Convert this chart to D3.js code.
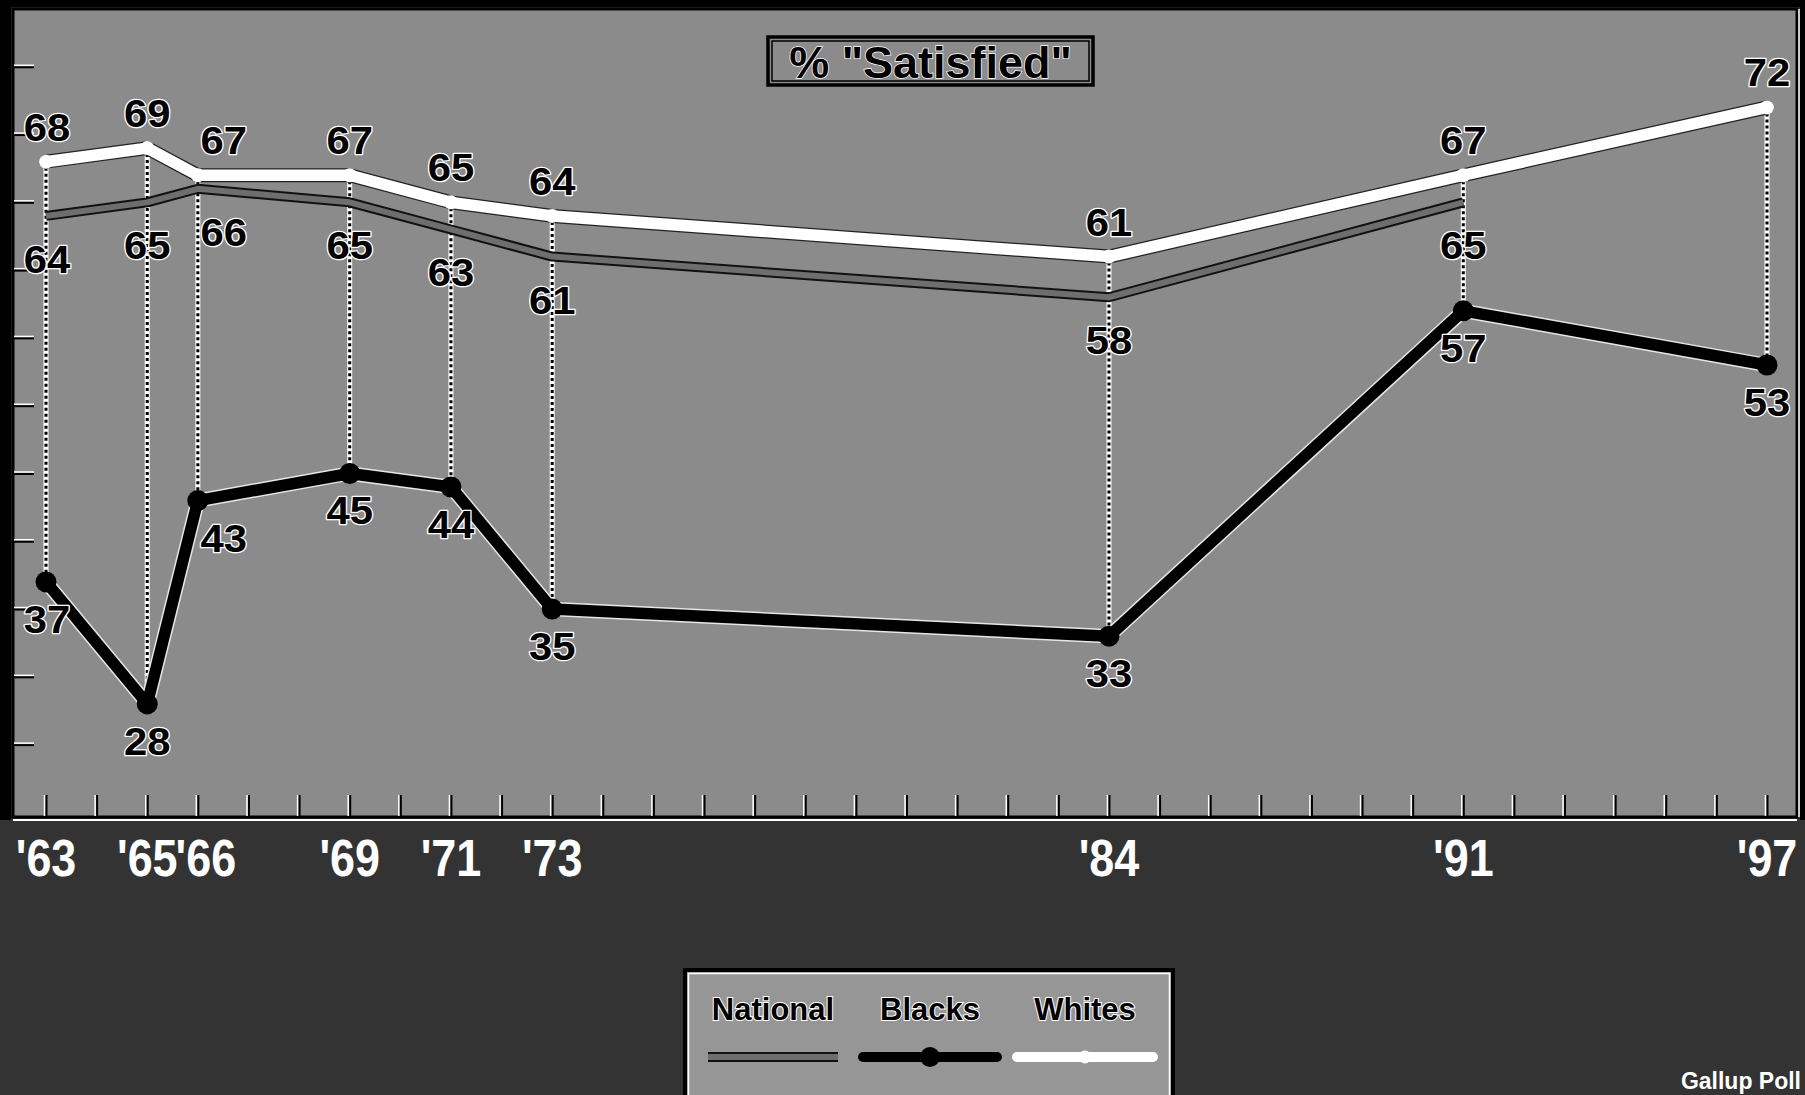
<!DOCTYPE html>
<html>
<head>
<meta charset="utf-8">
<script src="https://cdn.jsdelivr.net/npm/d3@7"></script>
<style>
  html, body { margin: 0; padding: 0; background: #333; }
  svg { display: block; }
</style>
</head>
<body>
<svg id="chart" width="1805" height="1095"></svg>
<script>
// ---------- data ----------
const years       = [1963, 1965, 1966, 1969, 1971, 1973, 1984, 1991, 1997];
const yearLabels  = ["'63", "'65", "'66", "'69", "'71", "'73", "'84", "'91", "'97"];
const whites      = [68, 69, 67, 67, 65, 64, 61, 67, 72];
const blacks      = [37, 28, 43, 45, 44, 35, 33, 57, 53];
const national    = [64, 65, 66, 65, 63, 61, 58, 65, null];
const seriesNames = ["National", "Blacks", "Whites"];
const titleText   = '% "Satisfied"';
const sourceText  = "Gallup Poll";
const yTickValues = [25, 30, 35, 40, 45, 50, 55, 60, 65, 70, 75];

// ---------- layout ----------
const W = 1805, H = 1095;
const FONT = "'Liberation Sans', Arial, Helvetica, sans-serif";
const plot = { left: 13, top: 9, right: 1797, bottom: 817 };
const PLOT_FILL = "#8b8b8b";
const DARK_FILL = "#333333";

const svg = d3.select("#chart");

const x = d3.scaleLinear().domain([1963, 1997]).range([46, 1767]);
const y = d3.scaleLinear().domain([20, 80]).range([812.4, -1.0]);

// background
svg.append("rect").attr("x", 0).attr("y", 0).attr("width", W).attr("height", H).attr("fill", DARK_FILL);
// outer black frame bands
svg.append("rect").attr("x", 0).attr("y", 0).attr("width", 11).attr("height", plot.bottom + 3).attr("fill", "#000");
svg.append("rect").attr("x", 0).attr("y", 0).attr("width", W).attr("height", 7).attr("fill", "#000");
svg.append("rect").attr("x", W - 5).attr("y", 0).attr("width", 5).attr("height", plot.bottom + 3).attr("fill", "#000");

// plot area
svg.append("rect")
  .attr("x", plot.left).attr("y", plot.top)
  .attr("width", plot.right - plot.left).attr("height", plot.bottom - plot.top)
  .attr("fill", PLOT_FILL).attr("stroke", "#000").attr("stroke-width", 3);
svg.append("line")
  .attr("x1", plot.left).attr("x2", plot.right)
  .attr("y1", plot.bottom + 3).attr("y2", plot.bottom + 3)
  .attr("stroke", "#fff").attr("stroke-width", 2);
svg.append("line")
  .attr("x1", plot.right + 2).attr("x2", plot.right + 2)
  .attr("y1", plot.top).attr("y2", plot.bottom)
  .attr("stroke", "#fff").attr("stroke-width", 1.5);

// bottom year ticks (every year)
const yearTicks = x.ticks(34);
const gx = svg.append("g");
gx.selectAll("line.tw").data(yearTicks).join("line")
  .attr("x1", d => x(d) - 1.5).attr("x2", d => x(d) - 1.5)
  .attr("y1", plot.bottom - 22).attr("y2", plot.bottom - 1)
  .attr("stroke", "#fff").attr("stroke-width", 1.5);
gx.selectAll("line.tb").data(yearTicks).join("line")
  .attr("x1", d => x(d) + 0.5).attr("x2", d => x(d) + 0.5)
  .attr("y1", plot.bottom - 22).attr("y2", plot.bottom - 1)
  .attr("stroke", "#000").attr("stroke-width", 2);

// left value ticks
const gy = svg.append("g");
gy.selectAll("line.tw").data(yTickValues).join("line")
  .attr("x1", plot.left + 1).attr("x2", plot.left + 21)
  .attr("y1", d => y(d) - 1.5).attr("y2", d => y(d) - 1.5)
  .attr("stroke", "#fff").attr("stroke-width", 1.5);
gy.selectAll("line.tb").data(yTickValues).join("line")
  .attr("x1", plot.left + 1).attr("x2", plot.left + 21)
  .attr("y1", d => y(d) + 0.5).attr("y2", d => y(d) + 0.5)
  .attr("stroke", "#000").attr("stroke-width", 2);

// title box
const tb = { x: 768, y: 37, w: 325, h: 48 };
svg.append("rect").attr("x", tb.x).attr("y", tb.y).attr("width", tb.w).attr("height", tb.h)
  .attr("fill", "none").attr("stroke", "#000").attr("stroke-width", 3.5);
svg.append("rect").attr("x", tb.x + 4).attr("y", tb.y + 4).attr("width", tb.w - 8).attr("height", tb.h - 8)
  .attr("fill", "none").attr("stroke", "#000").attr("stroke-width", 1.5);
svg.append("text").attr("x", tb.x + tb.w / 2).attr("y", 78)
  .attr("text-anchor", "middle").attr("font-family", FONT).attr("font-weight", "bold")
  .attr("font-size", 45).attr("fill", "#000")
  .attr("stroke", "#fff").attr("stroke-width", 1.5).attr("paint-order", "stroke")
  .text(titleText);

// dotted vertical connectors (whites -> blacks)
const idx = d3.range(years.length);
const gv = svg.append("g");
gv.selectAll("line.vw").data(idx).join("line")
  .attr("x1", i => x(years[i])).attr("x2", i => x(years[i]))
  .attr("y1", i => y(whites[i])).attr("y2", i => y(blacks[i]))
  .attr("stroke", "#fff").attr("stroke-width", 5);
gv.selectAll("line.vb").data(idx).join("line")
  .attr("x1", i => x(years[i])).attr("x2", i => x(years[i]))
  .attr("y1", i => y(whites[i])).attr("y2", i => y(blacks[i]))
  .attr("stroke", "#000").attr("stroke-width", 3).attr("stroke-dasharray", "3,3");

const line = d3.line().defined(d => d[1] != null).x(d => x(d[0])).y(d => y(d[1]));
const pts = arr => years.map((yr, i) => [yr, arr[i]]);

// National
svg.append("path").attr("d", line(pts(national))).attr("fill", "none")
  .attr("stroke", "#111").attr("stroke-width", 10).attr("stroke-linejoin", "round");
svg.append("path").attr("d", line(pts(national))).attr("fill", "none")
  .attr("stroke", "#6e6e6e").attr("stroke-width", 6).attr("stroke-linejoin", "round");

// Whites
svg.append("path").attr("d", line(pts(whites))).attr("fill", "none")
  .attr("stroke", "#222").attr("stroke-width", 14).attr("stroke-linejoin", "round").attr("stroke-linecap", "round");
svg.append("path").attr("d", line(pts(whites))).attr("fill", "none")
  .attr("stroke", "#fff").attr("stroke-width", 11.5).attr("stroke-linejoin", "round").attr("stroke-linecap", "round");
svg.append("g").selectAll("circle").data(pts(whites)).join("circle")
  .attr("cx", d => x(d[0])).attr("cy", d => y(d[1])).attr("r", 7).attr("fill", "#fff");

// Blacks
svg.append("path").attr("d", line(pts(blacks))).attr("fill", "none")
  .attr("stroke", "#e6e6e6").attr("stroke-width", 14.5).attr("stroke-linejoin", "round").attr("stroke-linecap", "round");
svg.append("path").attr("d", line(pts(blacks))).attr("fill", "none")
  .attr("stroke", "#000").attr("stroke-width", 11.5).attr("stroke-linejoin", "round").attr("stroke-linecap", "round");
svg.append("g").selectAll("circle").data(pts(blacks)).join("circle")
  .attr("cx", d => x(d[0])).attr("cy", d => y(d[1])).attr("r", 10.5).attr("fill", "#000");

// data labels
const labelDx = { 1963: 1, 1966: 26 };
function dataLabels(arr, dy) {
  const g = svg.append("g");
  pts(arr).filter(d => d[1] != null).forEach(d => {
    g.append("text")
      .attr("transform", `translate(${x(d[0]) + (labelDx[d[0]] || 0)},${y(d[1]) + dy}) scale(1.1,1)`)
      .attr("text-anchor", "middle").attr("font-family", FONT).attr("font-weight", "bold")
      .attr("font-size", 38).attr("fill", "#000")
      .attr("stroke", "#fff").attr("stroke-width", 2.5).attr("paint-order", "stroke")
      .attr("stroke-linejoin", "round")
      .text(d[1]);
  });
}
dataLabels(whites, -21);
dataLabels(national, 57);
dataLabels(blacks, 51);

// x axis year labels
const xLabelDx = { 1966: 8 };
svg.append("g").selectAll("text").data(idx).join("text")
  .attr("transform", i => `translate(${x(years[i]) + (xLabelDx[years[i]] || 0)},876) scale(0.88,1)`)
  .attr("text-anchor", "middle").attr("font-family", FONT).attr("font-weight", "bold")
  .attr("font-size", 51).attr("fill", "#fff")
  .text(i => yearLabels[i]);

// legend
const lg = { x: 685, y: 970, w: 488, h: 140 };
svg.append("rect").attr("x", lg.x).attr("y", lg.y).attr("width", lg.w).attr("height", lg.h)
  .attr("fill", "#969696").attr("stroke", "#000").attr("stroke-width", 4);
svg.append("rect").attr("x", lg.x + 3.5).attr("y", lg.y + 3.5).attr("width", lg.w - 7).attr("height", lg.h - 7)
  .attr("fill", "none").attr("stroke", "#fff").attr("stroke-width", 1.5);

const legendCx = [773, 930, 1085];
const legendLine = [[708, 838], [863, 997], [1017, 1153]];
const ly = 1057;
seriesNames.forEach((name, i) => {
  svg.append("text").attr("x", legendCx[i]).attr("y", 1020)
    .attr("text-anchor", "middle").attr("font-family", FONT).attr("font-weight", "bold")
    .attr("font-size", 31).attr("fill", "#000")
    .attr("stroke", "#fff").attr("stroke-width", 2).attr("paint-order", "stroke")
    .text(name);
});
// national legend sample
svg.append("line").attr("x1", legendLine[0][0]).attr("x2", legendLine[0][1]).attr("y1", ly).attr("y2", ly)
  .attr("stroke", "#111").attr("stroke-width", 10);
svg.append("line").attr("x1", legendLine[0][0]).attr("x2", legendLine[0][1]).attr("y1", ly).attr("y2", ly)
  .attr("stroke", "#6e6e6e").attr("stroke-width", 6);
// blacks legend sample
svg.append("line").attr("x1", legendLine[1][0]).attr("x2", legendLine[1][1]).attr("y1", ly).attr("y2", ly)
  .attr("stroke", "#000").attr("stroke-width", 10).attr("stroke-linecap", "round");
svg.append("circle").attr("cx", legendCx[1]).attr("cy", ly).attr("r", 10).attr("fill", "#000");
// whites legend sample
svg.append("line").attr("x1", legendLine[2][0]).attr("x2", legendLine[2][1]).attr("y1", ly).attr("y2", ly)
  .attr("stroke", "#fff").attr("stroke-width", 10).attr("stroke-linecap", "round");
svg.append("circle").attr("cx", legendCx[2]).attr("cy", ly).attr("r", 6.5).attr("fill", "#fff");

// source
svg.append("text").attr("x", 1801).attr("y", 1089)
  .attr("text-anchor", "end").attr("font-family", FONT).attr("font-weight", "bold")
  .attr("font-size", 23).attr("fill", "#fff").text(sourceText);
</script>
</body>
</html>
